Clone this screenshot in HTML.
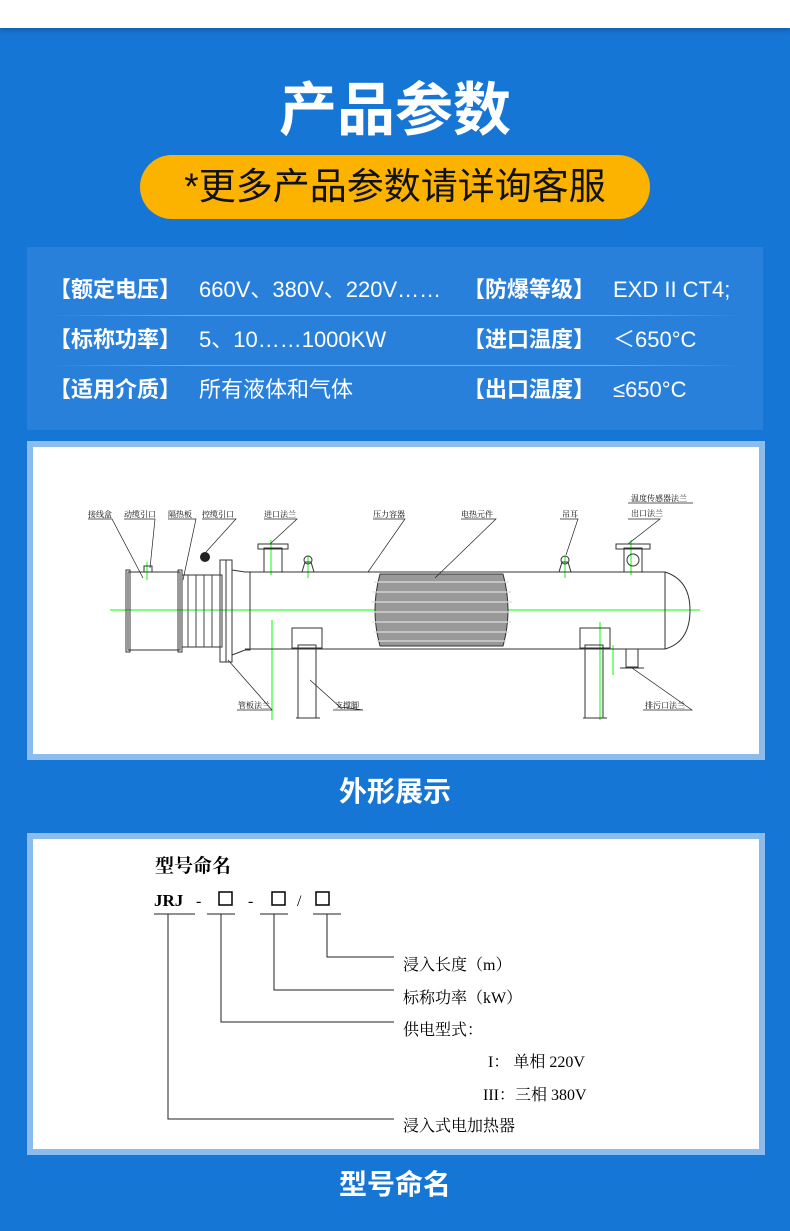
<!DOCTYPE html>
<html><head><meta charset="utf-8"><style>
body{margin:0;width:790px;height:1231px;background:#1676d6;position:relative;overflow:hidden;font-family:"Liberation Sans","Noto Sans CJK SC",sans-serif}
.top{position:absolute;left:0;top:0;width:790px;height:28px;background:#fff;box-shadow:0 2px 6px rgba(0,0,0,.25)}
.abs{position:absolute}
.title{left:0;width:790px;text-align:center;color:#fff;font-weight:bold}
.pill{left:140px;top:155px;width:510px;height:64px;border-radius:32px;background:#fbb300;color:#111;font-size:37px;text-align:center;line-height:64px}
.tbl{left:27px;top:247px;width:736px;height:183px;background:#2880da}
.row{position:absolute;left:0;width:736px;height:50px;color:#fff;font-size:22px;line-height:50px}
.row span{position:absolute}
.b{font-weight:bold}
.sep{position:absolute;left:20px;width:700px;height:1px;background:linear-gradient(90deg,rgba(255,255,255,0),rgba(255,255,255,.35) 20%,rgba(255,255,255,.35) 80%,rgba(255,255,255,0))}
.box{left:27px;width:738px;background:#8cbcee}
.inner{position:absolute;left:6px;top:6px;right:6px;bottom:6px;background:#fff}
.ser{font-family:"Liberation Serif","Noto Serif CJK SC",serif}
</style></head><body>
<div class="top"></div>
<div class="abs title" style="top:76px;font-size:58px;line-height:70px">产品参数</div>
<div class="abs pill">*更多产品参数请详询客服</div>
<div class="abs tbl">
 <div class="row" style="top:18px"><span class="b" style="left:22px">【额定电压】</span><span style="left:172px">660V、380V、220V……</span><span class="b" style="left:436px">【防爆等级】</span><span style="left:586px">EXD II CT4;</span></div>
 <div class="sep" style="top:68px"></div>
 <div class="row" style="top:68px"><span class="b" style="left:22px">【标称功率】</span><span style="left:172px">5、10……1000KW</span><span class="b" style="left:436px">【进口温度】</span><span style="left:586px">＜650°C</span></div>
 <div class="sep" style="top:118px"></div>
 <div class="row" style="top:118px"><span class="b" style="left:22px">【适用介质】</span><span style="left:172px">所有液体和气体</span><span class="b" style="left:436px">【出口温度】</span><span style="left:586px">≤650°C</span></div>
</div>
<div class="abs box" style="top:441px;height:319px"><div class="inner">
<svg width="726" height="307" viewBox="33 447 726 307" style="position:absolute;left:0;top:0" font-family="Liberation Serif,Noto Serif CJK SC,serif" font-size="8" fill="#000">
<g stroke="#0f0" stroke-width="1"><line x1="110" y1="610" x2="700" y2="610"/><line x1="271" y1="540" x2="271" y2="575"/><line x1="631" y1="540" x2="631" y2="575"/><line x1="272" y1="620" x2="272" y2="720"/><line x1="600" y1="622" x2="600" y2="720"/><line x1="147" y1="562" x2="147" y2="580"/><line x1="308" y1="556" x2="308" y2="578"/><line x1="565" y1="556" x2="565" y2="578"/><line x1="613" y1="645" x2="613" y2="675"/></g>
<g stroke="#333" fill="none" stroke-width="1">
<rect x="128" y="572" width="52" height="78"/><rect x="126" y="570" width="4" height="82"/><rect x="178" y="570" width="4" height="82"/>
<rect x="182" y="575" width="40" height="72"/>
<rect x="220" y="560" width="6" height="102"/><rect x="226" y="560" width="6" height="102"/>
<path d="M232 570 L245 572 L250 572 L250 650 L245 650 L232 655"/>
<path d="M245 572 H665 Q690 580 690 610 Q690 642 665 649 H245"/>
<line x1="665" y1="572" x2="665" y2="649"/>
<rect x="264" y="548" width="18" height="24"/><rect x="258" y="544" width="30" height="5"/>
<rect x="624" y="548" width="18" height="24"/><rect x="616" y="544" width="34" height="5"/>
<circle cx="633" cy="560" r="6"/>
<rect x="292" y="628" width="30" height="20"/><rect x="298" y="645" width="18" height="73"/><line x1="296" y1="718" x2="320" y2="718"/>
<rect x="580" y="628" width="30" height="20"/><rect x="585" y="645" width="18" height="73"/><line x1="583" y1="718" x2="607" y2="718"/>
<rect x="626" y="649" width="12" height="18"/><line x1="620" y1="668" x2="644" y2="668"/>
<circle cx="308" cy="560" r="4"/><path d="M302 572 L305 562 H311 L314 572"/>
<circle cx="565" cy="560" r="4"/><path d="M559 572 L562 562 H568 L571 572"/>
<rect x="144" y="566" width="8" height="6"/>
<path d="M380 574 Q370 610 380 646 H503 Q513 610 503 574 Z" fill="#999"/>
</g>
<g stroke="#ddd" stroke-width="1.2"><line x1="374" y1="582" x2="509" y2="582"/><line x1="372" y1="592" x2="511" y2="592"/><line x1="371" y1="602" x2="512" y2="602"/><line x1="371" y1="612" x2="512" y2="612"/><line x1="372" y1="622" x2="511" y2="622"/><line x1="374" y1="632" x2="509" y2="632"/><line x1="377" y1="641" x2="506" y2="641"/></g>
<g stroke="#444"><line x1="188" y1="575" x2="188" y2="647"/><line x1="196" y1="575" x2="196" y2="647"/><line x1="204" y1="575" x2="204" y2="647"/><line x1="212" y1="575" x2="212" y2="647"/></g>
<circle cx="205" cy="557" r="5" fill="#222"/>
<g stroke="#222" stroke-width="0.7" fill="none">
<path d="M88 519 H112 L143 578"/><path d="M124 519 H155 L150 568"/><path d="M168 519 H196 L183 580"/><path d="M202 519 H236 L206 552"/>
<path d="M264 519 H297 L270 544"/><path d="M373 519 H405 L368 572"/><path d="M461 519 H496 L435 578"/><path d="M560 519 H578 L566 555"/>
<path d="M628 503 H693"/><path d="M628 519 H660 L628 544"/><path d="M237 710 H272 L228 660"/><path d="M333 710 H363 L340 707 L310 680"/><path d="M643 710 H692 L632 668"/>
</g>
<text x="88" y="517">接线盒</text><text x="124" y="517">动缆引口</text><text x="168" y="517">隔热板</text><text x="202" y="517">控缆引口</text><text x="264" y="517">进口法兰</text><text x="373" y="517">压力容器</text><text x="461" y="517">电热元件</text><text x="562" y="517">吊耳</text><text x="631" y="501">温度传感器法兰</text><text x="631" y="516">出口法兰</text><text x="238" y="708">管板法兰</text><text x="335" y="708">支撑脚</text><text x="645" y="708">排污口法兰</text>
</svg></div></div>
<div class="abs title" style="top:772px;font-size:28px;line-height:40px">外形展示</div>
<div class="abs box" style="top:833px;height:322px"><div class="inner">
<svg width="726" height="310" viewBox="33 839 726 310" style="position:absolute;left:0;top:0" class="ser" font-family="Liberation Serif,Noto Serif CJK SC,serif" font-size="16" fill="#000">
<text x="155" y="872" font-size="19" font-weight="bold">型号命名</text>
<text x="154" y="906" font-size="17" font-weight="bold">JRJ</text>
<text x="196" y="906" font-size="16">-</text><rect x="219" y="892" width="13" height="13" fill="none" stroke="#000" stroke-width="1.5"/>
<text x="248" y="906">-</text><rect x="272" y="892" width="13" height="13" fill="none" stroke="#000" stroke-width="1.5"/>
<text x="297" y="906">/</text><rect x="316" y="892" width="13" height="13" fill="none" stroke="#000" stroke-width="1.5"/>
<g stroke="#222" stroke-width="1"><line x1="154" y1="914" x2="195" y2="914"/><line x1="207" y1="914" x2="235" y2="914"/><line x1="260" y1="914" x2="288" y2="914"/><line x1="313" y1="914" x2="341" y2="914"/>
<path d="M327 914 V957 H394" fill="none"/><path d="M274 914 V990 H394" fill="none"/><path d="M221 914 V1022 H394" fill="none"/><path d="M168 914 V1119 H394" fill="none"/></g>
<text x="403" y="970">浸入长度（m）</text><text x="403" y="1003">标称功率（kW）</text><text x="403" y="1035">供电型式：</text>
<text x="488" y="1067">I： 单相 220V</text><text x="483" y="1100">III：三相 380V</text><text x="403" y="1131">浸入式电加热器</text>
</svg></div></div>
<div class="abs title" style="top:1165px;font-size:28px;line-height:40px">型号命名</div>
</body></html>
